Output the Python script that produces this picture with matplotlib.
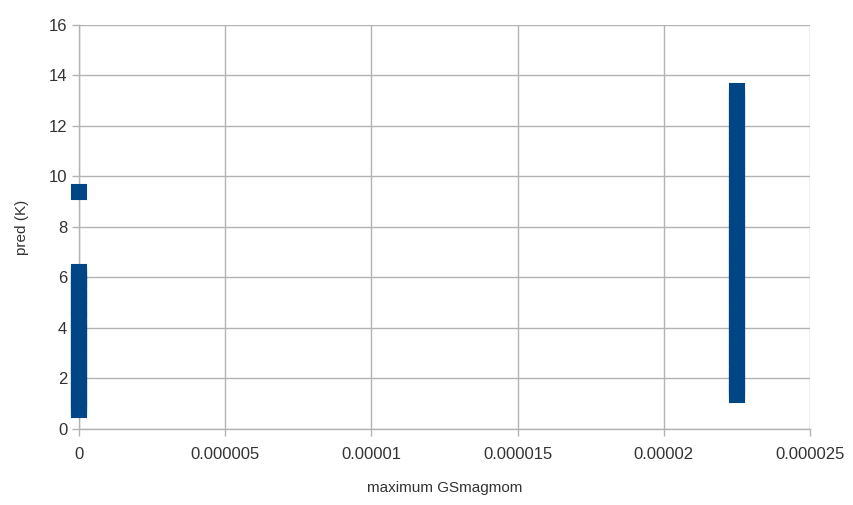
import matplotlib.pyplot as plt

plt.rcParams['font.family'] = ['Liberation Sans', 'DejaVu Sans']

# predictions for magmom ~ 0
left_x = 0.0
left_y = [0.75, 0.85, 0.95, 1.1, 1.2, 1.35, 1.5, 1.6, 1.75, 1.9, 2.0, 2.15, 2.3,
          2.4, 2.55, 2.7, 2.8, 2.95, 3.1, 3.2, 3.35, 3.5, 3.6, 3.75, 3.9, 4.0,
          4.15, 4.3, 4.4, 4.55, 4.7, 4.8, 4.95, 5.1, 5.2, 5.35, 5.5, 5.6, 5.75,
          5.9, 6.0, 6.1, 6.2, 9.4]

# predictions for magmom ~ 2.25e-5
right_x = 0.0000225
right_y = [1.35, 1.45, 1.6, 1.8, 1.95, 2.1, 2.3, 2.45, 2.6, 2.8, 2.95, 3.1, 3.3,
           3.45, 3.6, 3.8, 3.95, 4.1, 4.3, 4.45, 4.6, 4.8, 4.95, 5.1, 5.3, 5.45,
           5.6, 5.8, 5.95, 6.1, 6.3, 6.45, 6.6, 6.8, 6.95, 7.1, 7.3, 7.45, 7.6,
           7.8, 7.95, 8.1, 8.3, 8.5, 8.7, 9.0, 9.2, 9.4, 9.6, 9.8, 10.0, 10.2,
           10.4, 10.6, 10.8, 11.0, 11.2, 11.4, 11.6, 11.8, 12.0, 12.2, 12.4,
           12.6, 12.8, 13.0, 13.2, 13.4]

x_ticks = [0, 0.000005, 0.00001, 0.000015, 0.00002, 0.000025]
x_tick_labels = ['0', '0.000005', '0.00001', '0.000015', '0.00002', '0.000025']
y_ticks = list(range(0, 17, 2))

fig = plt.figure(figsize=(8.54, 5.05), dpi=100)
ax = fig.add_axes([0.0925, 0.1505, 0.856, 0.80])

color = '#004586'
for xv, ys in [(left_x, left_y), (right_x, right_y)]:
    ax.plot([xv] * len(ys), ys, 's', color=color, markersize=10,
            markeredgewidth=1.5, markeredgecolor=color, clip_on=False,
            zorder=3, solid_joinstyle='round')

ax.set_xlim(0, 0.000025)
ax.set_ylim(0, 16)
ax.set_xticks(x_ticks)
ax.set_xticklabels(x_tick_labels)
ax.set_yticks(y_ticks)

ax.grid(True, color='#b3b3b3', linewidth=1)
ax.set_axisbelow(True)
for s in ['top', 'right']:
    ax.spines[s].set_visible(False)
for s in ['left', 'bottom']:
    ax.spines[s].set_color('#b3b3b3')
    ax.spines[s].set_linewidth(1)
ax.tick_params(colors='#b3b3b3', labelcolor='#333333', labelsize=12, length=5,
               width=1)
ax.tick_params(axis='x', pad=8)

ax.set_xlabel('maximum GSmagmom', fontsize=11, color='#333333', labelpad=14)
ax.set_ylabel('pred (K)', fontsize=11, color='#333333', labelpad=14)

plt.savefig('out.png')
